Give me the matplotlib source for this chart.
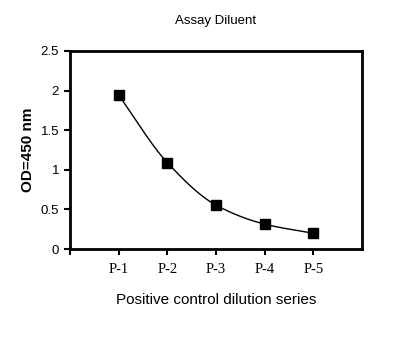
import matplotlib
matplotlib.use("Agg")
import matplotlib.pyplot as plt
import numpy as np

labels = ["P-1", "P-2", "P-3", "P-4", "P-5"]
od450 = [1.94, 1.09, 0.555, 0.315, 0.20]

x = np.arange(1, len(labels) + 1, dtype=float)
y = np.array(od450)

# smooth monotone curve through the points (pchip style)
h = np.diff(x)
d = np.diff(y) / h
m = np.zeros_like(y)
m[0], m[-1] = d[0], d[-1]
for i in range(1, len(y) - 1):
    if d[i - 1] * d[i] > 0:
        m[i] = 2 / (1 / d[i - 1] + 1 / d[i])
xs, ys = [], []
for i in range(len(x) - 1):
    t = np.linspace(0, 1, 40)
    h00 = 2 * t**3 - 3 * t**2 + 1
    h10 = t**3 - 2 * t**2 + t
    h01 = -2 * t**3 + 3 * t**2
    h11 = t**3 - t**2
    xs.append(x[i] + t * h[i])
    ys.append(h00 * y[i] + h10 * h[i] * m[i] + h01 * y[i + 1] + h11 * h[i] * m[i + 1])
xs = np.concatenate(xs)
ys = np.concatenate(ys)

fig = plt.figure(figsize=(3.96, 3.46), dpi=100)
ax = fig.add_axes([0.177, 0.280, 0.737, 0.573])
ax.plot(xs, ys, color="black", lw=1)
ax.plot(x, y, "s", color="black", ms=7)

ax.set_xlim(0, 6)
ax.set_ylim(0, 2.5)
ax.set_xticks([0] + list(x))
ax.set_xticklabels([""] + labels, fontfamily="Liberation Serif", fontsize=10.5)
ax.set_yticks([0, 0.5, 1, 1.5, 2, 2.5])
ax.set_yticklabels(["0", "0.5", "1", "1.5", "2", "2.5"], fontfamily="Liberation Sans", fontsize=9.5)
ax.tick_params(length=4, width=1.5, pad=4)
ax.tick_params(axis="x", pad=6)
for s in ax.spines.values():
    s.set_linewidth(2)

ax.set_ylabel("OD=450 nm", fontsize=11, fontweight="bold", fontfamily="Liberation Sans", labelpad=4)
ax.set_xlabel("Positive control dilution series", fontsize=11, fontfamily="Liberation Sans", labelpad=12)
ax.set_title("Assay Diluent", fontsize=9.5, fontfamily="Liberation Sans", pad=19)

fig.savefig("out.png", dpi=100)
